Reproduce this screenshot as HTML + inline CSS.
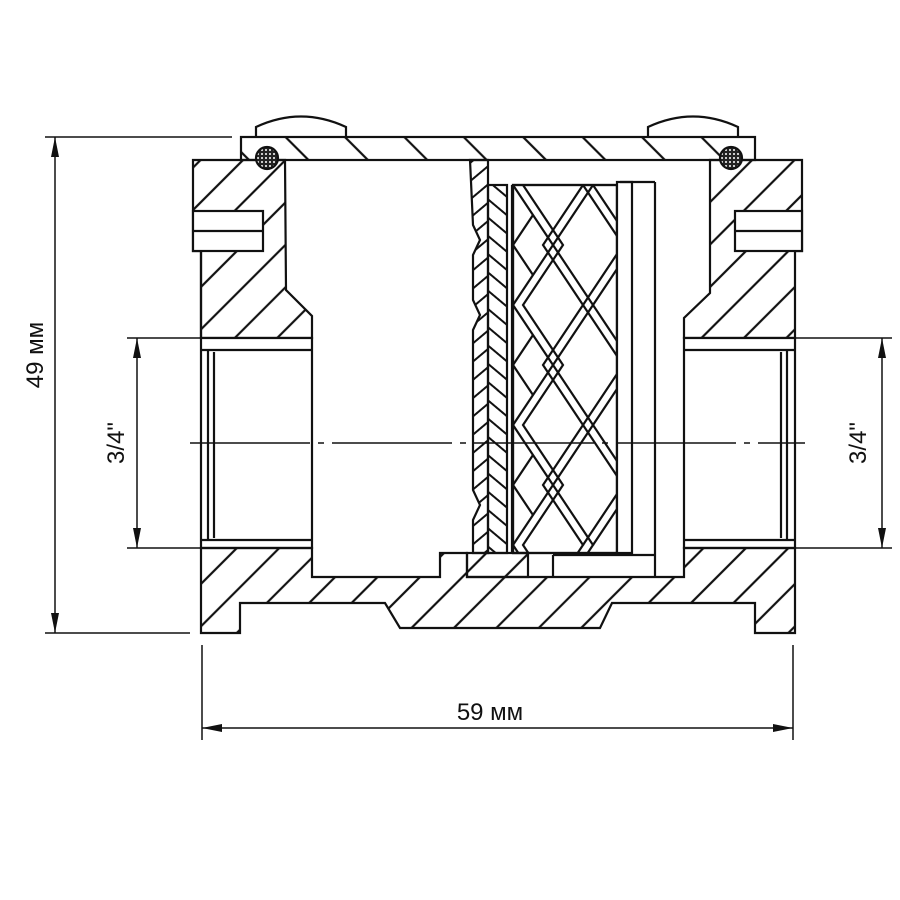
<!DOCTYPE html>
<html><head><meta charset="utf-8"><style>
html,body{margin:0;padding:0;background:#fff}
svg{display:block}
text{font-family:"Liberation Sans","DejaVu Sans",sans-serif;fill:#111}
</style></head><body>
<svg width="900" height="900" viewBox="0 0 900 900" xmlns="http://www.w3.org/2000/svg">
<defs>
<pattern id="h1" patternUnits="userSpaceOnUse" width="30" height="30" patternTransform="rotate(45)">
<line x1="15" y1="0" x2="15" y2="30" stroke="#111" stroke-width="2.2"/></pattern>
<pattern id="h2" patternUnits="userSpaceOnUse" width="42" height="42" patternTransform="rotate(-45)">
<line x1="21" y1="0" x2="21" y2="42" stroke="#111" stroke-width="2.2"/></pattern>
<pattern id="h3" patternUnits="userSpaceOnUse" width="14" height="14" patternTransform="rotate(-50)">
<line x1="7" y1="0" x2="7" y2="14" stroke="#111" stroke-width="2"/></pattern>
<pattern id="h4" patternUnits="userSpaceOnUse" width="14" height="14" patternTransform="rotate(50)">
<line x1="7" y1="0" x2="7" y2="14" stroke="#111" stroke-width="2"/></pattern>
<pattern id="dots" patternUnits="userSpaceOnUse" width="4" height="4">
<rect width="4" height="4" fill="#222"/><circle cx="2" cy="2" r="1" fill="#fff"/></pattern>
<clipPath id="mc"><rect x="513" y="185" width="104" height="368"/></clipPath>
</defs>
<g fill="none" stroke="#111" stroke-width="2.2">
<!-- screws -->
<path d="M256,137 L256,127 Q301,106 346,127 L346,137" fill="#fff"/>
<path d="M648,137 L648,127 Q693,106 738,127 L738,137" fill="#fff"/>
<!-- cap plate -->
<rect x="241" y="137" width="514" height="23" fill="url(#h2)"/>
<!-- left upper block -->
<path d="M193,160 L285,160 L286,290 L312,316 L312,338 L201,338 L201,251 L193,251 Z" fill="url(#h1)"/>
<rect x="193" y="211" width="70" height="40" fill="#fff"/>
<line x1="193" y1="231" x2="263" y2="231"/>
<line x1="201" y1="251" x2="201" y2="338"/>
<!-- right upper block -->
<path d="M710,160 L802,160 L802,251 L795,251 L795,338 L684,338 L684,318 L710,293 Z" fill="url(#h1)"/>
<rect x="735" y="211" width="67" height="40" fill="#fff"/>
<line x1="735" y1="231" x2="802" y2="231"/>
<!-- ports -->
<rect x="201" y="338" width="111" height="210" fill="#fff"/>
<line x1="208" y1="350" x2="208" y2="540"/><line x1="214" y1="352" x2="214" y2="538"/>
<line x1="201" y1="350" x2="312" y2="350"/>
<rect x="684" y="338" width="111" height="210" fill="#fff"/>
<line x1="787" y1="350" x2="787" y2="540"/><line x1="781" y1="352" x2="781" y2="538"/>
<line x1="684" y1="350" x2="795" y2="350"/>
<line x1="201" y1="540" x2="312" y2="540"/><line x1="684" y1="540" x2="795" y2="540"/>
<!-- bottom body -->
<path d="M201,548 L312,548 L312,577 L440,577 L440,553 L467,553 L467,577 L684,577 L684,548 L795,548 L795,633 L755,633 L755,603 L612,603 L600,628 L400,628 L385,603 L240,603 L240,633 L201,633 Z" fill="url(#h1)"/>
<!-- o-rings -->
<circle cx="267" cy="158" r="11" fill="url(#dots)"/>
<circle cx="731" cy="158" r="11" fill="url(#dots)"/>
<!-- filter -->
<path d="M470,160 L488,160 L488,553 L473,553 L473,520 L480,505 L473,490 L473,330 L480,315 L473,300 L473,255 L480,240 L473,225 Z" fill="url(#h4)"/>
<rect x="488" y="185" width="19" height="368" fill="url(#h3)"/>
<line x1="512" y1="185" x2="512" y2="553"/>
<rect x="513" y="185" width="104" height="368" fill="#fff"/>
<g clip-path="url(#mc)" stroke-width="2.2">
<path d="M513,185 L553,245 L513,305 L553,365 L513,425 L553,485 L513,545 L553,605"/>
<path d="M523,185 L563,245 L523,305 L563,365 L523,425 L563,485 L523,545 L563,605"/>
<path d="M593,185 L553,245 L593,305 L553,365 L593,425 L553,485 L593,545 L553,605"/>
<path d="M583,185 L543,245 L583,305 L543,365 L583,425 L543,485 L583,545 L543,605"/>
<path d="M593,185 L633,245 L593,305 L633,365 L593,425 L633,485 L593,545"/>
<path d="M583,185 L623,245 L583,305 L623,365 L583,425 L623,485 L583,545"/>
<path d="M513,245 L533,215 M513,245 L533,275 M513,365 L533,335 M513,365 L533,395 M513,485 L533,455 M513,485 L533,515"/>
</g>
<rect x="513" y="185" width="104" height="368"/>
<rect x="617" y="182" width="15" height="371" fill="#fff"/>
<line x1="620" y1="182" x2="655" y2="182"/>
<line x1="655" y1="182" x2="655" y2="577"/>
<line x1="553" y1="555" x2="655" y2="555"/>
<line x1="553" y1="555" x2="553" y2="577"/>
<rect x="467" y="553" width="61" height="24" fill="url(#h1)"/>
</g>
<!-- dimensions -->
<g stroke="#111" stroke-width="1.5" fill="none">
<line x1="45" y1="137" x2="232" y2="137"/>
<line x1="45" y1="633" x2="190" y2="633"/>
<line x1="55" y1="137" x2="55" y2="633"/>
<line x1="127" y1="338" x2="312" y2="338"/>
<line x1="127" y1="548" x2="312" y2="548"/>
<line x1="137" y1="338" x2="137" y2="548"/>
<line x1="684" y1="338" x2="892" y2="338"/>
<line x1="684" y1="548" x2="892" y2="548"/>
<line x1="882" y1="338" x2="882" y2="548"/>
<line x1="202" y1="645" x2="202" y2="740"/>
<line x1="793" y1="645" x2="793" y2="740"/>
<line x1="202" y1="728" x2="793" y2="728"/>
<line x1="190" y1="443" x2="805" y2="443" stroke-dasharray="120,8,6,8"/>
</g>
<g fill="#111">
<path d="M55,137 L51,157 L59,157Z"/><path d="M55,633 L51,613 L59,613Z"/>
<path d="M137,338 L133,358 L141,358Z"/><path d="M137,548 L133,528 L141,528Z"/>
<path d="M882,338 L878,358 L886,358Z"/><path d="M882,548 L878,528 L886,528Z"/>
<path d="M202,728 L222,724 L222,732Z"/><path d="M793,728 L773,724 L773,732Z"/>
</g>
<text x="0" y="0" font-size="24" text-anchor="middle" transform="translate(43,355) rotate(-90)">49 мм</text>
<text x="0" y="0" font-size="24" text-anchor="middle" transform="translate(124,443) rotate(-90)">3/4"</text>
<text x="0" y="0" font-size="24" text-anchor="middle" transform="translate(866,443) rotate(-90)">3/4"</text>
<text x="490" y="720" font-size="24" text-anchor="middle">59 мм</text>
</svg>
</body></html>
